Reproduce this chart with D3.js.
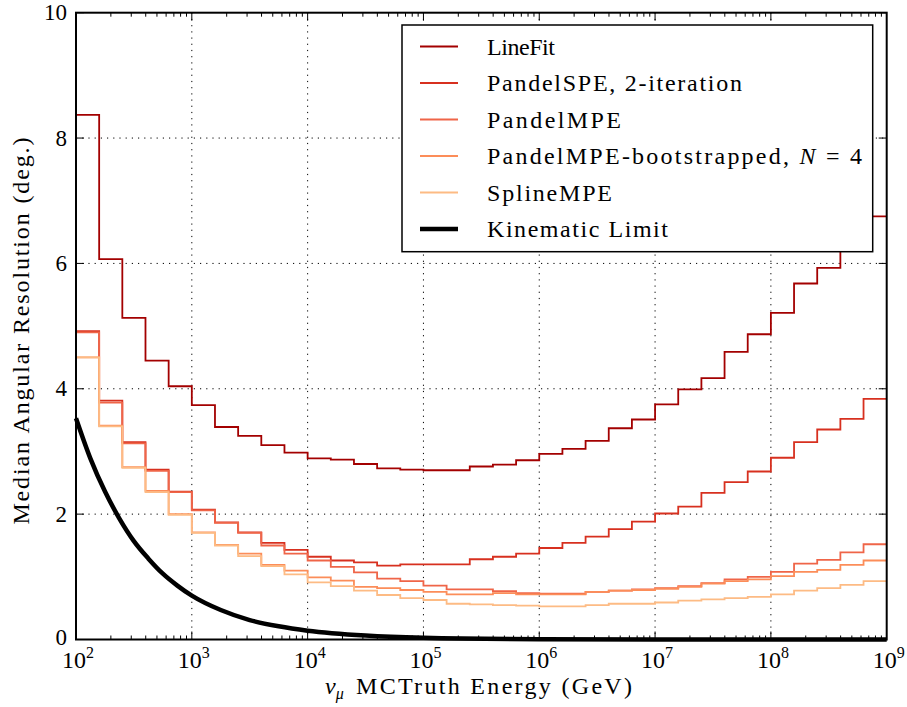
<!DOCTYPE html>
<html>
<head>
<meta charset="utf-8">
<script src="https://cdn.jsdelivr.net/npm/d3@7"></script>
<style>
  html, body { margin: 0; padding: 0; background: #fff; }
  svg { display: block; }
  text { font-family: "Liberation Serif", "DejaVu Serif", serif; fill: #000; }
</style>
</head>
<body>
<svg id="chart" width="907" height="707"></svg>
<script>
// ---- data ----
const binEdgesExp = d3.range(0, 36).map(i => 2 + 0.2 * i); // log10 energy edges, 5 bins per decade
const lineFit = [8.37,6.07,5.13,4.45,4.04, 3.74,3.39,3.25,3.10,2.98, 2.89,2.87,2.80,2.73,2.71, 2.70,2.70,2.76,2.79,2.86, 2.96,3.04,3.17,3.37,3.51, 3.75,3.99,4.17,4.59,4.87, 5.21,5.68,5.93,6.35,6.75];
const pandelSPE = [4.92,3.81,3.15,2.71,2.36, 2.07,1.87,1.71,1.54,1.43, 1.32,1.26,1.23,1.18,1.20, 1.20,1.20,1.28,1.32,1.37, 1.46,1.54,1.64,1.76,1.88, 2.01,2.12,2.34,2.51,2.68, 2.90,3.15,3.35,3.52,3.84];
const pandelMPE = [4.90,3.78,3.13,2.69,2.35, 2.06,1.86,1.70,1.50,1.37, 1.26,1.16,1.07,0.97,0.93, 0.86,0.80,0.80,0.77,0.74, 0.73,0.73,0.76,0.78,0.80, 0.82,0.85,0.90,0.96,1.00, 1.08,1.21,1.27,1.39,1.52];
const bootstrapped = [4.50,3.41,2.75,2.37,2.00, 1.71,1.51,1.37,1.19,1.10, 0.99,0.94,0.84,0.82,0.79, 0.76,0.72,0.72,0.74,0.72, 0.72,0.72,0.76,0.78,0.79, 0.81,0.84,0.89,0.93,0.96, 1.01,1.08,1.11,1.19,1.26];
const splineMPE = [4.50,3.40,2.74,2.35,1.99, 1.70,1.50,1.33,1.17,1.04, 0.91,0.85,0.78,0.71,0.66, 0.63,0.57,0.56,0.55,0.54, 0.53,0.53,0.55,0.57,0.57, 0.59,0.62,0.64,0.66,0.68, 0.72,0.78,0.82,0.87,0.93];
const kinEnergy = [100,133,178,237,316,422,562,750,1000,1778,3162,5623,10000,31623,1e5,1e6,1e7,1e8,1e9];
const kinLimit  = [3.53,2.89,2.36,1.93,1.57,1.29,1.05,0.86,0.70,0.47,0.31,0.21,0.14,0.063,0.028,0.0056,0.0011,0.0002,0.00005];
const seriesNames = ["LineFit","PandelSPE, 2-iteration","PandelMPE","PandelMPE-bootstrapped, N = 4","SplineMPE","Kinematic Limit"];
const seriesColors = ["#a30000","#d7301f","#ef6548","#fc8d59","#fdbb84","#000000"];
const xTickExps = [2,3,4,5,6,7,8,9];
const yTicks = [0,2,4,6,8,10];

// ---- layout ----
const svg = d3.select("#chart");
const L = 76, T = 12.7, R = 886.7, B = 639.5;
const x = d3.scaleLog().domain([1e2, 1e9]).range([L, R]);
const y = d3.scaleLinear().domain([0, 10]).range([B, T]);
const legendTextWidths = [68, 255, 134, 375, 125, 181]; // text extents to mimic the LaTeX font

// grid
const grid = svg.append("g");
xTickExps.slice(1, -1).forEach(e => {
  grid.append("line").attr("x1", x(Math.pow(10, e))).attr("x2", x(Math.pow(10, e)))
    .attr("y1", T).attr("y2", B).attr("stroke", "#000").attr("stroke-width", 1)
    .attr("stroke-dasharray", "1.2,5");
});
yTicks.slice(1, -1).forEach(v => {
  grid.append("line").attr("x1", L).attr("x2", R).attr("y1", y(v)).attr("y2", y(v))
    .attr("stroke", "#000").attr("stroke-width", 1).attr("stroke-dasharray", "1.2,5");
});

// step histograms
const stepLine = d3.line().x(d => x(Math.pow(10, d[0]))).y(d => y(d[1])).curve(d3.curveStepAfter);
const hist = [lineFit, pandelSPE, pandelMPE, bootstrapped, splineMPE];
hist.forEach((vals, k) => {
  const pts = vals.map((v, i) => [binEdgesExp[i], v]);
  pts.push([binEdgesExp[vals.length], vals[vals.length - 1]]);
  svg.append("path").attr("d", stepLine(pts)).attr("fill", "none")
    .attr("stroke", seriesColors[k]).attr("stroke-width", 1.8);
});

// kinematic limit
const kinLine = d3.line().x(d => x(d[0])).y(d => y(d[1])).curve(d3.curveMonotoneX);
svg.append("path").attr("d", kinLine(kinEnergy.map((e, i) => [e, kinLimit[i]])))
  .attr("fill", "none").attr("stroke", "#000").attr("stroke-width", 4.5);

// ticks
const tk = svg.append("g").attr("stroke", "#000").attr("stroke-width", 1);
for (let e = 2; e < 9; e++) {
  for (let m = 1; m < 10; m++) {
    const v = m * Math.pow(10, e);
    const len = m === 1 ? 8 : 4;
    tk.append("line").attr("x1", x(v)).attr("x2", x(v)).attr("y1", B).attr("y2", B - len);
    tk.append("line").attr("x1", x(v)).attr("x2", x(v)).attr("y1", T).attr("y2", T + len);
  }
}
yTicks.forEach(v => {
  tk.append("line").attr("x1", L).attr("x2", L + 8).attr("y1", y(v)).attr("y2", y(v));
  tk.append("line").attr("x1", R).attr("x2", R - 8).attr("y1", y(v)).attr("y2", y(v));
});

// frame
svg.append("rect").attr("x", L).attr("y", T).attr("width", R - L).attr("height", B - T)
  .attr("fill", "none").attr("stroke", "#000").attr("stroke-width", 2);

// tick labels
yTicks.forEach(v => {
  svg.append("text").attr("x", L - 9).attr("y", y(v) - (v === 0 ? 2 : 0)).attr("dy", "0.33em")
    .attr("text-anchor", "end").attr("font-size", 23).text(v);
});
xTickExps.forEach(e => {
  const t = svg.append("text").attr("x", x(Math.pow(10, e)) + 2).attr("y", 668)
    .attr("text-anchor", "middle").attr("font-size", 24);
  t.append("tspan").text("10");
  t.append("tspan").attr("font-size", 16).attr("dy", -10).text(e);
});

// axis labels
const xl = svg.append("text").attr("x", 325).attr("y", 694)
  .attr("text-anchor", "start").attr("font-size", 24);
xl.append("tspan").attr("font-style", "italic").text("ν");
xl.append("tspan").attr("font-style", "italic").attr("font-size", 16).attr("dy", 5).text("μ");
xl.append("tspan").attr("dy", -5).attr("x", 356).attr("textLength", 276).attr("lengthAdjust", "spacing")
  .text("MCTruth Energy (GeV)");

svg.append("text").attr("transform", `translate(29,${(T + B) / 2 + 5}) rotate(-90)`)
  .attr("text-anchor", "middle").attr("font-size", 24)
  .attr("textLength", 387).attr("lengthAdjust", "spacing")
  .text("Median Angular Resolution (deg.)");

// legend
const lg = svg.append("g");
lg.append("rect").attr("x", 402).attr("y", 25).attr("width", 470.7).attr("height", 226.7)
  .attr("fill", "#fff").attr("stroke", "#000").attr("stroke-width", 1.5);
seriesNames.forEach((name, i) => {
  const cy = 46.5 + i * 36.5;
  lg.append("line").attr("x1", 420).attr("x2", 458).attr("y1", cy).attr("y2", cy)
    .attr("stroke", seriesColors[i]).attr("stroke-width", i === 5 ? 4.5 : 1.8);
  const t = lg.append("text").attr("x", 487).attr("y", cy).attr("dy", "0.35em").attr("font-size", 24)
    .attr("textLength", legendTextWidths[i]).attr("lengthAdjust", "spacing");
  if (name.includes("N = 4")) {
    t.append("tspan").text("PandelMPE-bootstrapped, ");
    t.append("tspan").attr("font-style", "italic").text("N");
    t.append("tspan").text(" = 4");
  } else {
    t.text(name);
  }
});
</script>
</body>
</html>
